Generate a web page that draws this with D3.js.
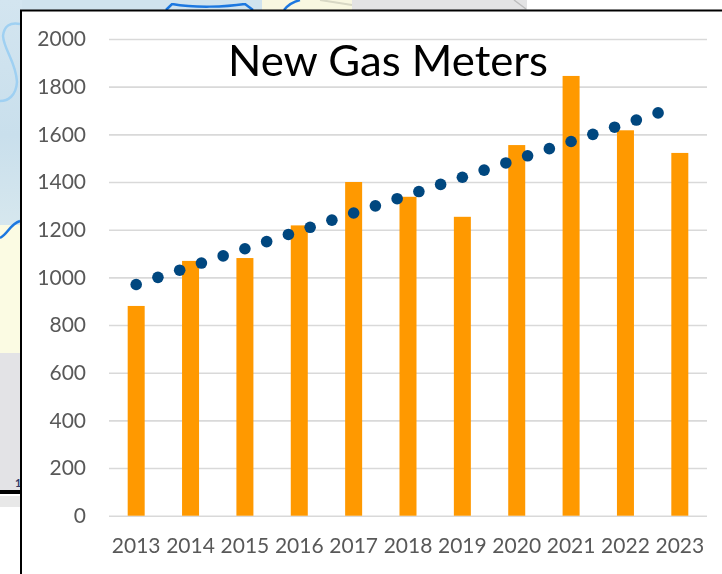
<!DOCTYPE html>
<html>
<head>
<meta charset="utf-8">
<script src="https://cdn.jsdelivr.net/npm/d3@7/dist/d3.min.js"></script>
<style>
html,body{margin:0;padding:0;background:#fff;overflow:hidden}
svg{display:block}
text{font-family:Lato,"Open Sans",sans-serif}
</style>
</head>
<body>
<svg id="c" width="722" height="574"></svg>
<script>
const years = [2013,2014,2015,2016,2017,2018,2019,2020,2021,2022,2023];
const meters = [880,1069,1081,1218,1400,1338,1254,1555,1845,1617,1522];
const trendYears = [2013,2013.4,2013.8,2014.2,2014.6,2015,2015.4,2015.8,2016.2,2016.6,2017,2017.4,2017.8,2018.2,2018.6,2019,2019.4,2019.8,2020.2,2020.6,2021,2021.4,2021.8,2022.2,2022.6];
const trendValues = [970,1000,1030,1060,1090,1120,1150,1180,1210,1240,1270,1300,1330,1360,1390,1420,1450,1480,1510,1540,1570,1600,1630,1660,1690];
const yTicks = [0,200,400,600,800,1000,1200,1400,1600,1800,2000];
const titleText = "New Gas Meters";

const svg = d3.select("#c");
const W = 722, H = 574;

const defs = svg.append("defs");
const blur = defs.append("filter").attr("id","soft");
blur.append("feGaussianBlur").attr("stdDeviation",0.7);
const fine = defs.append("filter").attr("id","fine").attr("x","-5%").attr("y","-5%").attr("width","110%").attr("height","110%");
fine.append("feGaussianBlur").attr("stdDeviation",0.3);
const grad = defs.append("linearGradient").attr("id","water").attr("x1",0).attr("y1",0).attr("x2",0).attr("y2",1);
grad.append("stop").attr("offset",0).attr("stop-color","#d3e5f0");
grad.append("stop").attr("offset",0.6).attr("stop-color","#c9dfec");
grad.append("stop").attr("offset",1).attr("stop-color","#d6e7ee");

// backdrop: the slide the chart was pasted over
const bg = svg.append("g");
const rect = (x,y,w,h,f)=>bg.append("rect").attr("x",x).attr("y",y).attr("width",w).attr("height",h).attr("fill",f);
rect(0,0,W,H,"#ffffff");
rect(0,0,527,12,"#e3e3e4");
rect(0,0,352,12,"#f8f7e0");
rect(0,0,262,12,"#d0e3ee");
rect(0,0,22,225,"url(#water)");
rect(0,225,22,128,"#fbfbe3");
rect(0,353,22,138,"#e3e3e6");
rect(0,496,22,11,"#e8e8e8");
const river = (d,c,w)=>bg.append("path").attr("d",d).attr("fill","none").attr("stroke",c).attr("stroke-width",w).attr("filter","url(#soft)");
river("M20,24 C10,22 4,26 3,36 C4,50 16,62 17,82 C16,96 8,101 0,101","#9fd0f2",2.5);
river("M0,238 C8,234 10,224 20,221","#1e78e0",2.5);
river("M166,10 L172,4 C195,8 225,7 245,4 L253,10","#1e78e0",2.5);
river("M284,10 C288,5 292,2 300,0","#1e78e0",2.5);
river("M320,0 L352,5","#d8d8c4",2);
river("M514,0 L526,9","#bdbdbd",1.5);
bg.append("text").attr("x",15).attr("y",487).attr("font-size",11).attr("font-weight",700).attr("fill","#333a66").text("1");
rect(0,490,21,4,"#000000");

// chart frame
svg.append("rect").attr("x",21).attr("y",10.5).attr("width",W+10).attr("height",H+10)
  .attr("fill","#ffffff").attr("stroke","#000000").attr("stroke-width",2);

const x = d3.scaleBand().domain(years).range([109,707]);
const xNum = d3.scaleLinear().domain([2012.5,2023.5]).range([109,707]);
const y = d3.scaleLinear().domain([0,2000]).range([515.7,39]);

const chart = svg.append("g").attr("filter","url(#fine)");

// gridlines + y labels
const gy = chart.append("g").attr("transform","translate(109,0)")
  .call(d3.axisLeft(y).tickValues(yTicks).tickSize(-598).tickPadding(23).tickFormat(d3.format("d")));
gy.select(".domain").remove();
gy.selectAll("line").attr("stroke","#d9d9d9").attr("stroke-width",1.6);
gy.selectAll("text").attr("fill","#595959").attr("font-size",21);

// bars
chart.append("g").selectAll("rect").data(years).join("rect")
  .attr("x",d=>x(d)+x.bandwidth()/2-8.5)
  .attr("width",17)
  .attr("y",(d,i)=>y(meters[i]))
  .attr("height",(d,i)=>y(0)-y(meters[i]))
  .attr("fill","#ff9900");

// dotted trend
chart.append("g").selectAll("circle").data(trendYears).join("circle")
  .attr("cx",d=>xNum(d))
  .attr("cy",(d,i)=>y(trendValues[i]))
  .attr("r",5.8)
  .attr("fill","#00467f");

// x labels
const gx = chart.append("g").attr("transform","translate(0,515.7)")
  .call(d3.axisBottom(x).tickSize(0).tickPadding(22).tickFormat(d3.format("d")));
gx.select(".domain").remove();
gx.selectAll("text").attr("fill","#595959").attr("font-size",21);

// title
chart.append("text").attr("x",388).attr("y",76).attr("text-anchor","middle")
  .attr("font-size",42).attr("textLength",320).attr("lengthAdjust","spacingAndGlyphs")
  .attr("fill","#000000").text(titleText);
</script>
</body>
</html>
